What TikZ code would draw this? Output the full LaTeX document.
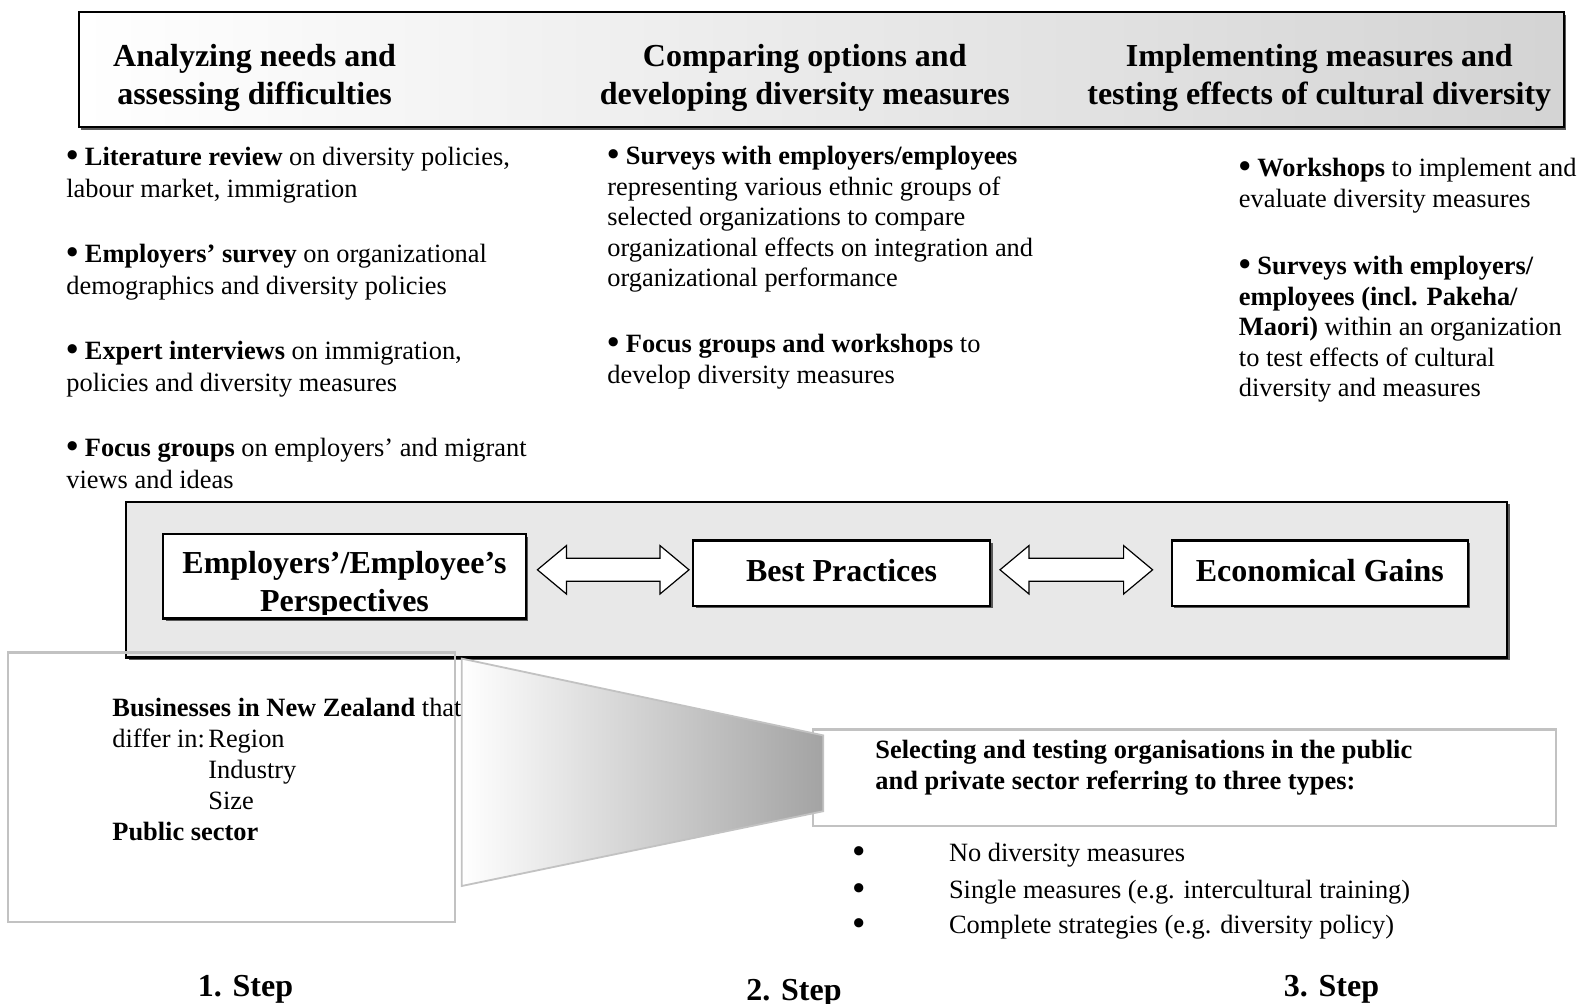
\documentclass[tikz,border=0pt]{standalone}
\usepackage{fontspec}
\setmainfont{Liberation Serif}
\usetikzlibrary{calc}

% stacked lines: first baseline is the box baseline
\newcommand{\lstack}[2]{\vtop{\baselineskip=#1\lineskiplimit=-\maxdimen\halign{##\hfil\cr#2\crcr}}}
\newcommand{\cstack}[2]{\vtop{\baselineskip=#1\lineskiplimit=-\maxdimen\halign{\hfil##\hfil\cr#2\crcr}}}
% heavier list bullet
\newcommand{\blt}{\raisebox{-0.6pt}{\fontsize{17}{17}\selectfont\textbf{•}}}

\definecolor{panelgray}{gray}{0.91}
\definecolor{framegray}{gray}{0.76}
\definecolor{bannerend}{gray}{0.83}
\definecolor{funnelend}{gray}{0.64}
\definecolor{shadowgray}{gray}{0.35}

\tikzset{
  body/.style={inner sep=0pt, anchor=base west, font=\fontsize{13.2}{15.5}\selectfont},
  big/.style={inner sep=0pt, font=\fontsize{16}{19}\selectfont\bfseries},
  keybox/.style={fill=white, inner sep=0pt, text height=11.5pt, text depth=3.5pt,
                 font=\fontsize{16}{19}\selectfont\bfseries},
  keyframe/.style={draw=black, line width=1.1pt},
  softframe/.style={draw=framegray, line width=1.1pt},
  arrowshape/.style={draw=black, line width=0.6pt, fill=white, line join=miter},
}

% two-headed block arrow between two tip coordinates
\newcommand{\twoway}[2]{%
  \draw[arrowshape] (#1) -- ($(#1)+(29,-24.2)$) -- ($(#1)+(29,-11.5)$)
    -- ($(#2)+(-29,-11.5)$) -- ($(#2)+(-29,-24.2)$) -- (#2)
    -- ($(#2)+(-29,24.2)$) -- ($(#2)+(-29,11.5)$) -- ($(#1)+(29,11.5)$)
    -- ($(#1)+(29,24.2)$) -- cycle;}

\begin{document}
\begin{tikzpicture}[x=0.5pt,y=-0.5pt]
\useasboundingbox (0,0) rectangle (1584,1004);
\fill[white] (0,0) rectangle (1584,1004);

% ---- heading banner ----
\fill[shadowgray] (81.3,14.6) rectangle (1566.3,129.8);
\shade[left color=white, right color=bannerend, draw=black, line width=1.1pt]
  (78.8,12.1) rectangle (1563.8,127.3);
\node[big, anchor=base] (h1) at (254.6,67) {\cstack{19pt}{Analyzing needs and\cr assessing difficulties}};
\node[big, anchor=base] (h2) at (804.8,67) {\cstack{19pt}{Comparing options and\cr developing diversity measures}};
\node[big, anchor=base] (h3) at (1319.3,67) {\cstack{19pt}{Implementing measures and\cr testing effects of cultural diversity}};

% ---- first column ----
\node[body] (c1a) at (66,165.8) {\lstack{15.65pt}{\blt\ \textbf{Literature review} on diversity policies,\cr labour market, immigration}};
\node[body] (c1b) at (66,262.8) {\lstack{15.65pt}{\blt\ \textbf{Employers’ survey} on organizational\cr demographics and diversity policies}};
\node[body] (c1c) at (66,359.8) {\lstack{15.65pt}{\blt\ \textbf{Expert interviews} on immigration,\cr policies and diversity measures}};
\node[body] (c1d) at (66,456.8) {\lstack{15.65pt}{\blt\ \textbf{Focus groups} on employers’ and migrant\cr views and ideas}};

% ---- second column ----
\node[body] (c2a) at (607,164.5) {\lstack{15.3pt}{\blt\ \textbf{Surveys with employers/employees}\cr
  representing various ethnic groups of\cr selected organizations to compare\cr
  organizational effects on integration and\cr organizational performance}};
\node[body] (c2b) at (607,352.8) {\lstack{15.3pt}{\blt\ \textbf{Focus groups and workshops} to\cr develop diversity measures}};

% ---- third column ----
\node[body] (c3a) at (1238.5,176.5) {\lstack{15.3pt}{\blt\ \textbf{Workshops} to implement and\cr evaluate diversity measures}};
\node[body] (c3b) at (1238.5,274.5) {\lstack{15.3pt}{\blt\ \textbf{Surveys with employers/}\cr
  \textbf{employees (incl. Pakeha/}\cr \textbf{Maori)} within an organization\cr
  to test effects of cultural\cr diversity and measures}};

% ---- central panel ----
\fill[shadowgray] (128.8,504.5) rectangle (1509.7,660.1);
\draw[black, line width=1.1pt, fill=panelgray] (126.3,502) rectangle (1507.2,657.6);

\fill[shadowgray] (166.2,536.9) rectangle (527.8,620.7);
\node[fill=white, inner sep=0pt, minimum width=180.8pt, minimum height=41.9pt] (emp) at (344.5,576.3) {};
\begin{scope}
  \clip (emp.north west) rectangle ($(emp.south east)+(0,-4.5)$);
  \node[big, anchor=base] (emptext) at (344.5,574) {\cstack{19pt}{Employers’/Employee’s\cr Perspectives}};
\end{scope}
\draw[keyframe] (emp.south west) rectangle (emp.north east);

\fill[shadowgray] (695.5,543) rectangle (992.5,608.5);
\node[keybox, keyframe, minimum width=148.5pt, minimum height=32.75pt] (best) at (841.5,573.25) {Best Practices};
\fill[shadowgray] (1174.3,543) rectangle (1470.3,608.5);
\node[keybox, keyframe, minimum width=148pt, minimum height=32.75pt] (gain) at (1319.8,573.25) {Economical Gains};

\coordinate (a1l) at (537.4,569.8);
\coordinate (a1r) at (689,569.8);
\coordinate (a2l) at (1000,569.8);
\coordinate (a2r) at (1152.6,569.8);
\twoway{a1l}{a1r}
\twoway{a2l}{a2r}

% ---- lower left sample box ----
\draw[softframe] (8,652.6) rectangle (454.6,922.3);
\node[body] (biz) at (112,716.5) {\lstack{15.5pt}{\textbf{Businesses in New Zealand} that\cr differ in:\cr\cr\cr \textbf{Public sector}}};
\node[body] (dims) at (208,747.5) {\lstack{15.5pt}{Region\cr Industry\cr Size}};

% ---- selection box and funnel ----
\draw[softframe, fill=white] (813.2,729.4) rectangle (1555.7,826.3);
\shade[left color=white, right color=funnelend, draw=framegray, line width=0.9pt]
  (461.7,658.6) -- (823.3,735.4) -- (823.3,811.2) -- (461.7,886) -- cycle;
\node[body, font=\fontsize{13.2}{15.5}\selectfont\bfseries] (sel) at (875,758.5)
  {\lstack{15.25pt}{Selecting and testing organisations in the public\cr and private sector referring to three types:}};

\node[body, anchor=base] (b1) at (858.7,861.5) {\blt};
\node[body, anchor=base] (b2) at (858.7,898) {\blt};
\node[body, anchor=base] (b3) at (858.7,933.5) {\blt};
\node[body] (t1) at (948.6,861.5) {No diversity measures};
\node[body] (t2) at (948.6,898) {Single measures (e.g. intercultural training)};
\node[body] (t3) at (948.6,933.5) {Complete strategies (e.g. diversity policy)};

% ---- step labels ----
\node[big, anchor=base] (s1) at (245.5,996) {1. Step};
\node[big, anchor=base] (s2) at (794,1000) {2. Step};
\node[big, anchor=base] (s3) at (1331.5,996) {3. Step};
\end{tikzpicture}
\end{document}
